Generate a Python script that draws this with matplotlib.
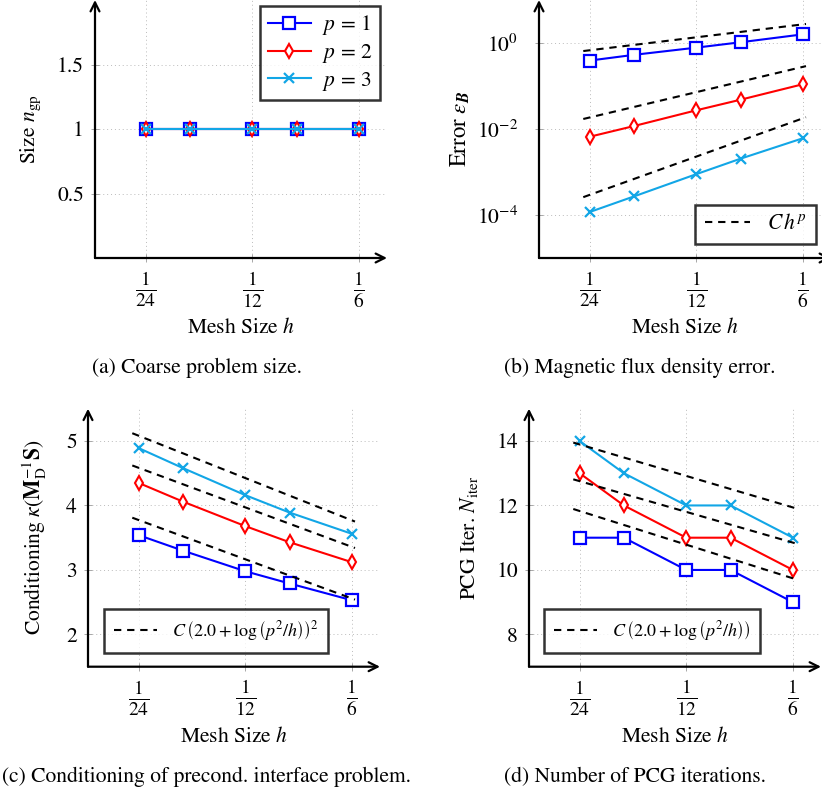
import numpy as np
import matplotlib
matplotlib.use("Agg")
import matplotlib.pyplot as plt

plt.rcParams['font.family'] = 'STIXGeneral'
plt.rcParams['mathtext.fontset'] = 'stix'
plt.rcParams['font.size'] = 15.5

# mesh sizes
h = [1/24, 1/18, 1/12, 1/9, 1/6]
h_ref = [0.04, 0.17]
h_ticks = [1/24, 1/12, 1/6]
h_ticklabels = [r'$\frac{1}{24}$', r'$\frac{1}{12}$', r'$\frac{1}{6}$']

# (a) coarse problem size
size_p1 = [1, 1, 1, 1, 1]
size_p2 = [1, 1, 1, 1, 1]
size_p3 = [1, 1, 1, 1, 1]

# (b) magnetic flux density error
err_p1 = [0.39, 0.53, 0.78, 1.04, 1.59]
err_p2 = [6.6e-3, 1.17e-2, 2.72e-2, 4.8e-2, 0.11]
err_p3 = [1.17e-4, 2.7e-4, 8.9e-4, 2.04e-3, 6.1e-3]
err_ref_p1 = [0.65, 2.77]
err_ref_p2 = [0.0171, 0.29]
err_ref_p3 = [2.6e-4, 0.0188]

# (c) conditioning
cond_p1 = [3.54, 3.30, 2.98, 2.79, 2.53]
cond_p2 = [4.35, 4.06, 3.68, 3.43, 3.12]
cond_p3 = [4.89, 4.58, 4.16, 3.89, 3.56]
cond_ref_p1 = [3.81, 2.54]
cond_ref_p2 = [4.62, 3.34]
cond_ref_p3 = [5.12, 3.75]

# (d) PCG iterations
iter_p1 = [11, 11, 10, 10, 9]
iter_p2 = [13, 12, 11, 11, 10]
iter_p3 = [14, 13, 12, 12, 11]
iter_ref_p1 = [11.89, 9.71]
iter_ref_p2 = [12.81, 10.82]
iter_ref_p3 = [13.95, 11.91]

c1, c2, c3 = '#0000ff', '#ff0000', '#12a6e6'
sty1 = dict(color=c1, marker='s', ms=9, mfc='white', mew=1.6, lw=1.5)
sty2 = dict(color=c2, marker='d', ms=7, mfc='white', mew=1.5, lw=1.5)
sty3 = dict(color=c3, marker='x', ms=7, mew=1.6, lw=1.5)
dash = dict(color='black', ls=(0, (3.5, 2.8)), lw=1.5)

W, H = 822, 794
fig = plt.figure(figsize=(W / 100, H / 100), dpi=100)


def make_ax(left, bottom_px):
    ax = fig.add_axes([left / W, 1 - bottom_px / H, 292 / W, 258 / H])
    ax.set_xscale('log')
    ax.set_xlim(0.03, 0.2)
    ax.set_xticks(h_ticks)
    ax.set_xticklabels(h_ticklabels, fontsize=20)
    ax.minorticks_off()
    for s in ax.spines.values():
        s.set_visible(False)
    ax.tick_params(direction='inout', length=6, width=0.6, color='#999999', pad=5)
    ax.tick_params(axis='x', pad=5)
    ax.grid(True, ls=(0, (1, 3)), color='#bbbbbb', lw=0.7)
    ax.annotate('', xy=(0, 1), xytext=(0, 0), xycoords='axes fraction',
                arrowprops=dict(arrowstyle='->', lw=1.6, color='black',
                                shrinkA=0, shrinkB=0, mutation_scale=16))
    ax.annotate('', xy=(1, 0), xytext=(0, 0), xycoords='axes fraction',
                arrowprops=dict(arrowstyle='->', lw=1.6, color='black',
                                shrinkA=0, shrinkB=0, mutation_scale=16))
    ax.set_xlabel(r'Mesh Size $h$', labelpad=6)
    return ax


def boxed(leg):
    f = leg.get_frame()
    f.set_edgecolor('black')
    f.set_linewidth(1.8)
    f.set_boxstyle('square', pad=0)


# (a)
ax = make_ax(95, 258)
ax.plot(h, size_p1, label=r'$p\,=\,1$', **sty1)
ax.plot(h, size_p2, label=r'$p\,=\,2$', **sty2)
ax.plot(h, size_p3, label=r'$p\,=\,3$', **sty3)
ax.set_ylim(0, 2)
ax.set_yticks([0.5, 1, 1.5])
ax.set_yticklabels(['0.5', '1', '1.5'])
ax.set_ylabel(r'Size $n_{\mathrm{gp}}$', labelpad=10)
leg = ax.legend(loc='upper right', bbox_to_anchor=(0.976, 0.977), fancybox=False,
                borderaxespad=0, handlelength=2.0, handletextpad=0.5,
                borderpad=0.35, labelspacing=0.22, fontsize=15.5)
boxed(leg)

# (b)
ax = make_ax(539, 258)
ax.set_yscale('log')
ax.plot(h, err_p1, **sty1)
ax.plot(h, err_p2, **sty2)
ax.plot(h, err_p3, **sty3)
ax.plot(h_ref, err_ref_p1, label=r'$C\,h^{p}$', **dash)
ax.plot(h_ref, err_ref_p2, **dash)
ax.plot(h_ref, err_ref_p3, **dash)
ax.set_ylim(1e-5, 1e1)
ax.set_yticks([1e-4, 1e-2, 1e0])
ax.set_yticklabels([r'$10^{-4}$', r'$10^{-2}$', r'$10^{0}$'])
ax.minorticks_off()
ax.tick_params(axis='y', pad=12)
ax.set_ylabel(r'Error $\epsilon_{\mathbfit{B}}$', labelpad=4, fontsize=16.5)
leg = ax.legend(loc='lower right', bbox_to_anchor=(0.949, 0.054), fancybox=False,
                borderaxespad=0, handlelength=2.1, borderpad=0.45, fontsize=15.5)
boxed(leg)

# (c)
ax = make_ax(88, 666.7)
ax.plot(h, cond_p1, **sty1)
ax.plot(h, cond_p2, **sty2)
ax.plot(h, cond_p3, **sty3)
ax.plot(h_ref, cond_ref_p1,
        label=r'$C\,\left(2.0 + \log\left(p^2/h\right)\right)^2$', **dash)
ax.plot(h_ref, cond_ref_p2, **dash)
ax.plot(h_ref, cond_ref_p3, **dash)
ax.set_ylim(1.5, 5.5)
ax.set_yticks([2, 3, 4, 5])
ax.set_ylabel(r'Conditioning $\kappa(\mathbf{M}_{\mathrm{D}}^{-1}\mathbf{S})$', labelpad=12)
leg = ax.legend(loc='lower left', bbox_to_anchor=(0.055, 0.053), fancybox=False,
                borderaxespad=0, handlelength=2.4, borderpad=0.55, fontsize=13)
boxed(leg)

# (d)
ax = make_ax(529, 666.7)
ax.plot(h, iter_p1, **sty1)
ax.plot(h, iter_p2, **sty2)
ax.plot(h, iter_p3, **sty3)
ax.plot(h_ref, iter_ref_p1,
        label=r'$C\,\left(2.0 + \log\left(p^2/h\right)\right)$', **dash)
ax.plot(h_ref, iter_ref_p2, **dash)
ax.plot(h_ref, iter_ref_p3, **dash)
ax.set_ylim(7, 15)
ax.set_yticks([8, 10, 12, 14])
ax.set_ylabel(r'PCG Iter. $N_{\mathrm{iter}}$', labelpad=12)
leg = ax.legend(loc='lower left', bbox_to_anchor=(0.051, 0.053), fancybox=False,
                borderaxespad=0, handlelength=2.4, borderpad=0.55, fontsize=13)
boxed(leg)

# captions
fig.text(197 / W, 1 - 368 / H, '(a) Coarse problem size.', ha='center', va='center')
fig.text(640 / W, 1 - 368 / H, '(b) Magnetic flux density error.', ha='center', va='center')
fig.text(2 / W, 1 - 777 / H, '(c) Conditioning of precond. interface problem.',
         ha='left', va='center')
fig.text(635 / W, 1 - 777 / H, '(d) Number of PCG iterations.', ha='center', va='center')

fig.savefig('out.png', dpi=100)
